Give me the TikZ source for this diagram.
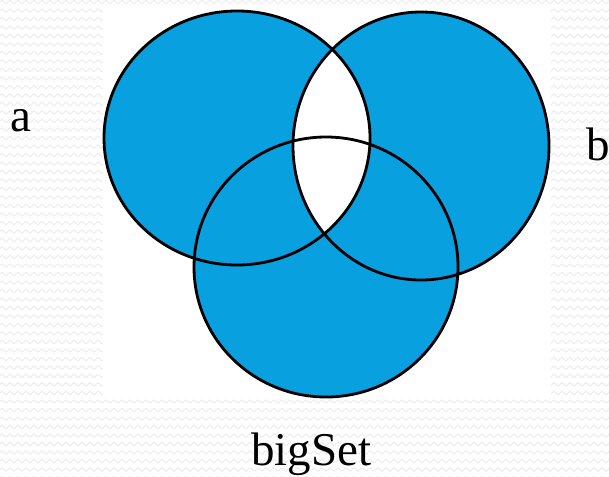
\documentclass[tikz,border=0pt]{standalone}
\usepackage{fontspec}
\setmainfont{Liberation Serif}
\definecolor{setblue}{RGB}{9,160,224}
\definecolor{bgwave}{RGB}{236,236,236}
\begin{document}
\begin{tikzpicture}[x=1pt,y=-1pt,
  outline/.style={draw=black,line width=2.8pt},
  wave/.style={draw=bgwave,line width=1pt},
  lbl/.style={font=\fontsize{47}{50}\selectfont,inner sep=0pt,anchor=base west}]
\useasboundingbox (0,0) rectangle (609,476);
\fill[white] (0,0) rectangle (609,476);
\foreach \r in {0,...,56}{
  \foreach \c in {0,...,15}{
    \draw[wave] plot[domain=0:40,samples=41] ({\c*40-4+\x},{\r*8.5+2+1.5*sin(\x*45)});
  }
}
\fill[white] (103,8) rectangle (551,397);
% set shapes
\coordinate (ca) at (237,138);
\coordinate (cb) at (421,146);
\coordinate (cc) at (326,267);
\fill[setblue] (ca) ellipse [x radius=133,y radius=127];
\fill[setblue] (cb) ellipse [x radius=128,y radius=134];
\fill[setblue] (cc) ellipse [x radius=132,y radius=130];
\begin{scope}
  \clip (ca) ellipse [x radius=133,y radius=127];
  \fill[white] (cb) ellipse [x radius=128,y radius=134];
\end{scope}
\draw[outline] (ca) ellipse [x radius=133,y radius=127];
\draw[outline] (cb) ellipse [x radius=128,y radius=134];
\draw[outline] (cc) ellipse [x radius=132,y radius=130];
\node[lbl] (la) at (10,131) {a};
\node[lbl] (lb) at (586,160) {b};
\node[lbl] (lc) at (251,465) {bigSet};
\end{tikzpicture}
\end{document}
